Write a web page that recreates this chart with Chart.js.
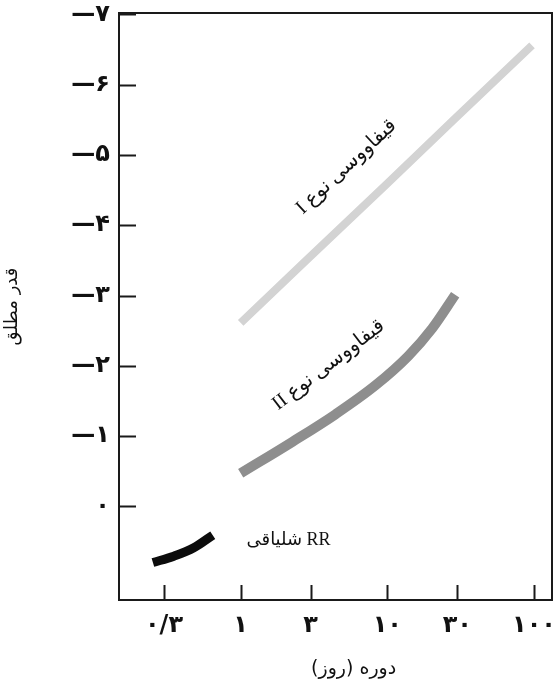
<!DOCTYPE html>
<html>
<head>
<meta charset="utf-8">
<script src="https://cdn.jsdelivr.net/npm/chart.js@4.4.1/dist/chart.umd.min.js"></script>
<style>
  html, body { margin: 0; padding: 0; background: #fff; }
</style>
</head>
<body>
<canvas id="chart" width="559" height="683"></canvas>
<script>
// Axis ticks
const xTicks = [0.3, 1, 3, 10, 30, 100];
const xTickLabels = ['۰/۳', '۱', '۳', '۱۰', '۳۰', '۱۰۰'];
const yTicks = [-7, -6, -5, -4, -3, -2, -1, 0];
const yTickLabels = ['—۷', '—۶', '—۵', '—۴', '—۳', '—۲', '—۱', '۰'];

// Period (days) / absolute magnitude
const type1Period = [1.0, 2.64, 9.85, 29.0, 96.9];
const type1Mag = [-2.61, -3.45, -4.58, -5.52, -6.56];
const type2Period = [1.0, 2.26, 4.43, 8.28, 13.9, 20.2, 29.0];
const type2Mag = [-0.47, -0.92, -1.31, -1.72, -2.14, -2.53, -3.01];
const rrPeriod = [0.252, 0.350, 0.479, 0.645];
const rrMag = [0.80, 0.71, 0.59, 0.41];

// In-plot labels
const labelTexts = ['قیفاووسی نوع I', 'قیفاووسی نوع II', 'RR شلیاقی'];
const labelPeriod = [5.26, 3.97, 2.12];
const labelMag = [-4.83, -2.01, 0.49];
const labelAngle = [-43, -37.5, 0];

const toPoints = (xs, ys) => xs.map((x, i) => ({ x, y: ys[i] }));
const INK = '#111';

const framePlugin = {
  id: 'frame',
  afterDatasetsDraw(chart) {
    const { ctx, chartArea: a, scales: { x, y } } = chart;
    ctx.save();
    ctx.strokeStyle = '#1a1a1a';
    ctx.lineWidth = 2;
    ctx.strokeRect(a.left, a.top, a.right - a.left, a.bottom - a.top);

    // inward tick marks
    ctx.beginPath();
    y.ticks.forEach(t => {
      const py = Math.round(y.getPixelForValue(t.value)) + 0.5;
      ctx.moveTo(a.left, py);
      ctx.lineTo(a.left + 17, py);
    });
    x.ticks.forEach(t => {
      const px = Math.round(x.getPixelForValue(t.value)) + 0.5;
      ctx.moveTo(px, a.bottom);
      ctx.lineTo(px, a.bottom - 15);
    });
    ctx.stroke();

    // curve labels
    ctx.fillStyle = INK;
    ctx.textAlign = 'center';
    ctx.textBaseline = 'middle';
    ctx.direction = 'rtl';
    labelTexts.forEach((txt, i) => {
      ctx.save();
      ctx.font = (i < 2 ? 20 : 18) + 'px "Liberation Serif", "DejaVu Sans"';
      ctx.translate(x.getPixelForValue(labelPeriod[i]), y.getPixelForValue(labelMag[i]));
      ctx.rotate(labelAngle[i] * Math.PI / 180);
      ctx.fillText(txt, 0, 0);
      ctx.restore();
    });
    ctx.restore();
  }
};

new Chart(document.getElementById('chart'), {
  type: 'line',
  data: {
    datasets: [
      {
        label: labelTexts[0],
        data: toPoints(type1Period, type1Mag),
        borderColor: '#d3d3d3',
        borderWidth: 8,
        pointRadius: 0,
        tension: 0
      },
      {
        label: labelTexts[1],
        data: toPoints(type2Period, type2Mag),
        borderColor: '#8e8e8e',
        borderWidth: 10,
        pointRadius: 0,
        cubicInterpolationMode: 'monotone'
      },
      {
        label: labelTexts[2],
        data: toPoints(rrPeriod, rrMag),
        borderColor: '#0c0c0c',
        borderWidth: 9,
        pointRadius: 0,
        cubicInterpolationMode: 'monotone'
      }
    ]
  },
  options: {
    responsive: false,
    animation: false,
    devicePixelRatio: 1,
    layout: { padding: { top: 13, right: 7, bottom: 0, left: 0 } },
    plugins: { legend: { display: false }, tooltip: { enabled: false } },
    scales: {
      x: {
        type: 'logarithmic',
        min: 0.148,
        max: 132.6,
        afterBuildTicks: s => { s.ticks = xTicks.map(v => ({ value: v })); },
        afterFit: s => { s.height = 83; s.paddingLeft = 0; s.paddingRight = 0; },
        grid: { display: false, drawTicks: false },
        border: { display: false },
        ticks: {
          autoSkip: false,
          maxRotation: 0,
          padding: 11,
          color: INK,
          font: { family: 'DejaVu Sans', size: 24, weight: 'bold' },
          callback: v => xTickLabels[xTicks.indexOf(v)]
        },
        title: {
          display: true,
          text: '\u00A0'.repeat(6) + 'دوره (روز)\u200F',
          color: INK,
          font: { family: 'DejaVu Sans', size: 19 },
          padding: { top: 0, bottom: 3 }
        }
      },
      y: {
        type: 'linear',
        reverse: true,
        min: -7.02,
        max: 1.333,
        afterBuildTicks: s => { s.ticks = yTicks.map(v => ({ value: v })); },
        afterFit: s => { s.width = 119; s.paddingTop = 0; s.paddingBottom = 0; },
        grid: { display: false, drawTicks: false },
        border: { display: false },
        ticks: {
          padding: 9,
          color: INK,
          font: { family: 'DejaVu Sans', size: 24, weight: 'bold' },
          callback: v => yTickLabels[yTicks.indexOf(v)]
        },
        title: {
          display: true,
          text: 'قدر مطلق',
          color: INK,
          font: { family: 'DejaVu Sans', size: 18 },
          padding: { top: 2, bottom: 0 }
        }
      }
    }
  },
  plugins: [framePlugin]
});
</script>
</body>
</html>
